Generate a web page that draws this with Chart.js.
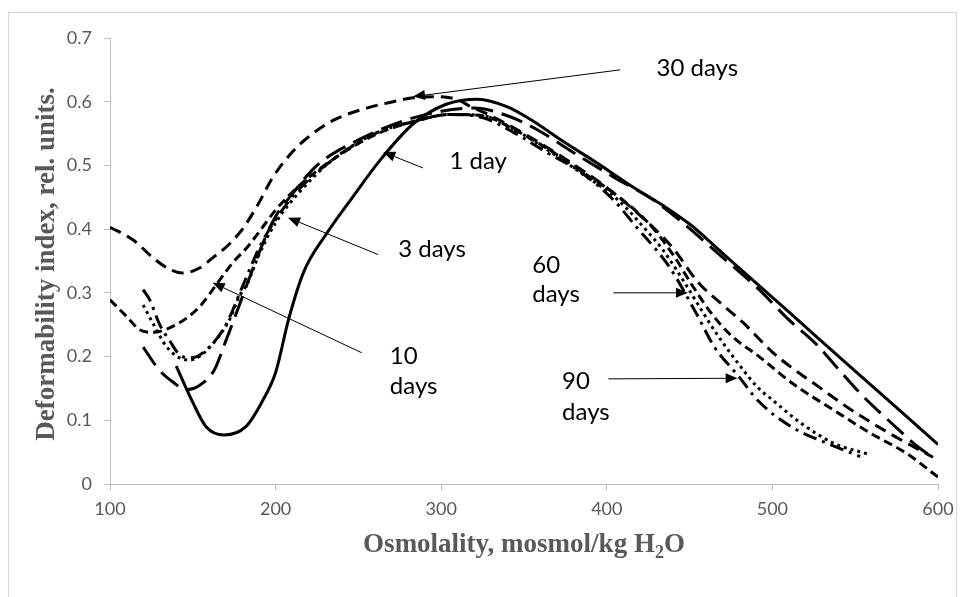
<!DOCTYPE html>
<html>
<head>
<meta charset="utf-8">
<script src="https://cdn.jsdelivr.net/npm/chart.js@4.4.1/dist/chart.umd.min.js"></script>
<style>
  html, body { margin: 0; padding: 0; background: #fff; }
  #wrap { width: 964px; height: 597px; }
</style>
</head>
<body>
<div id="wrap"><canvas id="chart"></canvas></div>
<script>
// values: osmolality (mosmol/kg H2O) vs deformability index
const day1X = [140, 150, 158, 169, 182, 192, 200, 208, 217, 230, 247, 263, 283, 303, 322, 340, 354, 374, 394, 414, 434, 450, 470, 500, 525, 550, 575, 600];
const day1Y = [0.185, 0.128, 0.09, 0.077, 0.09, 0.13, 0.175, 0.26, 0.333, 0.39, 0.452, 0.508, 0.565, 0.596, 0.604, 0.592, 0.572, 0.537, 0.504, 0.469, 0.437, 0.408, 0.362, 0.293, 0.235, 0.177, 0.12, 0.062];

const day3X = [120, 130, 138, 146, 153, 163, 170, 178, 186, 194, 200, 210, 225, 250, 275, 300, 320, 340, 358, 380, 404, 428, 444, 468, 492, 509, 527, 542, 555, 573, 588, 598];
const day3Y = [0.215, 0.178, 0.16, 0.148, 0.153, 0.179, 0.225, 0.28, 0.336, 0.388, 0.42, 0.455, 0.50, 0.54, 0.568, 0.585, 0.59, 0.578, 0.556, 0.52, 0.482, 0.446, 0.414, 0.36, 0.305, 0.26, 0.218, 0.174, 0.137, 0.093, 0.058, 0.04];

const day10X = [100, 110, 118, 126, 136, 146, 154, 164, 174, 183, 191, 200, 215, 235, 260, 285, 305, 325, 345, 365, 385, 405, 425, 440, 452, 464, 476, 492, 512, 537, 559, 581, 600];
const day10Y = [0.289, 0.263, 0.242, 0.238, 0.245, 0.26, 0.278, 0.312, 0.347, 0.372, 0.399, 0.43, 0.47, 0.51, 0.548, 0.57, 0.58, 0.578, 0.555, 0.525, 0.49, 0.455, 0.41, 0.36, 0.31, 0.265, 0.231, 0.2, 0.158, 0.116, 0.08, 0.048, 0.011];

const day30X = [100, 114, 126, 136, 144, 154, 162, 171, 180, 189, 198, 209, 219, 235, 255, 271, 285, 299, 310, 318, 330, 350, 375, 400, 425, 440, 455, 470, 482, 500, 512, 525, 545, 569, 597];
const day30Y = [0.403, 0.383, 0.355, 0.337, 0.331, 0.339, 0.355, 0.374, 0.40, 0.437, 0.48, 0.518, 0.543, 0.571, 0.59, 0.60, 0.607, 0.608, 0.603, 0.592, 0.578, 0.55, 0.51, 0.465, 0.41, 0.37, 0.317, 0.281, 0.254, 0.207, 0.182, 0.158, 0.121, 0.082, 0.042];

const day60X = [120, 127, 134, 142, 148, 154, 164, 172, 178, 183, 190, 200, 215, 235, 260, 285, 305, 325, 345, 365, 385, 405, 425, 434, 446, 456, 466, 480, 491, 500, 517, 537, 559];
const day60Y = [0.281, 0.247, 0.216, 0.198, 0.195, 0.2, 0.226, 0.257, 0.294, 0.315, 0.36, 0.41, 0.46, 0.51, 0.55, 0.57, 0.58, 0.578, 0.555, 0.523, 0.487, 0.45, 0.395, 0.367, 0.32, 0.278, 0.237, 0.187, 0.152, 0.132, 0.096, 0.064, 0.046];

const day90X = [120, 124, 130, 136, 142, 149, 160, 170, 180, 190, 200, 215, 235, 260, 285, 305, 325, 345, 364, 384, 404, 418, 430, 438, 454, 465, 479, 492, 512, 533, 553];
const day90Y = [0.305, 0.289, 0.25, 0.225, 0.203, 0.198, 0.215, 0.25, 0.31, 0.37, 0.415, 0.465, 0.51, 0.55, 0.57, 0.58, 0.575, 0.55, 0.52, 0.49, 0.446, 0.403, 0.367, 0.34, 0.268, 0.215, 0.171, 0.129, 0.089, 0.064, 0.043];

const xTicks = [100, 200, 300, 400, 500, 600];
const yTickLabels = ["0", "0.1", "0.2", "0.3", "0.4", "0.5", "0.6", "0.7"];

// callout arrows: tail (x, y) -> head (x, y), in data units
const arrowFrom = [[408, 0.65], [289, 0.496], [262, 0.36], [252, 0.206], [404, 0.30], [401, 0.165]];
const arrowTo = [[283, 0.608], [265, 0.521], [207.5, 0.418], [162, 0.316], [449, 0.30], [479, 0.166]];
// callout text lines, anchored at left edge / middle
const noteText = ["30 days", "1 day", "3 days", "10", "days", "60", "days", "90", "days"];
const notePos = [[430, 0.653], [305, 0.507], [274, 0.369], [269, 0.2], [269, 0.154], [355, 0.344], [355, 0.298], [373, 0.162], [373, 0.113]];

const pts = (xs, ys) => xs.map((x, i) => ({ x: x, y: ys[i] }));

const grey = "#595959";
const axisGrey = "#bfbfbf";
const lw = 3;

const extras = {
    id: "extras",
    beforeDraw(chart) {
        const ctx = chart.ctx;
        ctx.save();
        ctx.strokeStyle = "#d9d9d9";
        ctx.lineWidth = 1;
        ctx.strokeRect(8.5, 12.5, 948, 600);
        ctx.restore();
    },
    afterDraw(chart) {
        const ctx = chart.ctx;
        const xs = chart.scales.x, ys = chart.scales.y;
        const area = chart.chartArea;
        ctx.save();
        // arrows
        ctx.strokeStyle = "#000";
        ctx.fillStyle = "#000";
        ctx.lineWidth = 1;
        arrowFrom.forEach((f, i) => {
            const x0 = xs.getPixelForValue(f[0]), y0 = ys.getPixelForValue(f[1]);
            const x1 = xs.getPixelForValue(arrowTo[i][0]), y1 = ys.getPixelForValue(arrowTo[i][1]);
            const a = Math.atan2(y1 - y0, x1 - x0);
            const len = 12, half = 5;
            ctx.beginPath();
            ctx.moveTo(x0, y0);
            ctx.lineTo(x1 - Math.cos(a) * len, y1 - Math.sin(a) * len);
            ctx.stroke();
            ctx.beginPath();
            ctx.moveTo(x1, y1);
            ctx.lineTo(x1 - Math.cos(a) * len - Math.sin(a) * half, y1 - Math.sin(a) * len + Math.cos(a) * half);
            ctx.lineTo(x1 - Math.cos(a) * len + Math.sin(a) * half, y1 - Math.sin(a) * len - Math.cos(a) * half);
            ctx.closePath();
            ctx.fill();
        });
        // callout labels
        ctx.font = "24px Lato";
        ctx.textAlign = "left";
        ctx.textBaseline = "middle";
        noteText.forEach((t, i) => {
            ctx.fillText(t, xs.getPixelForValue(notePos[i][0]), ys.getPixelForValue(notePos[i][1]));
        });
        // axis titles
        ctx.fillStyle = grey;
        const big = "bold 27px 'Liberation Serif'", small = "bold 18px 'Liberation Serif'";
        ctx.font = big;
        const cx = (area.left + area.right) / 2;
        const part1 = "Osmolality, mosmol/kg H", part3 = "O";
        const w1 = ctx.measureText(part1).width, w3 = ctx.measureText(part3).width;
        ctx.font = small;
        const w2 = ctx.measureText("2").width;
        const sx = cx - (w1 + w2 + w3) / 2;
        const ty = 545;
        ctx.font = big;
        ctx.fillText(part1, sx, ty);
        ctx.font = small;
        ctx.fillText("2", sx + w1, ty + 8);
        ctx.font = big;
        ctx.fillText(part3, sx + w1 + w2, ty);

        ctx.translate(47, (area.top + area.bottom) / 2 + 3);
        ctx.rotate(-Math.PI / 2);
        ctx.textAlign = "center";
        ctx.fillText("Deformability index, rel. units.", 0, 0);
        ctx.restore();
    }
};

const ctx = document.getElementById("chart");
const chart = new Chart(ctx, {
    type: "line",
    data: {
        datasets: [{
            label: "1 day",
            data: pts(day1X, day1Y),
            borderColor: "#000",
            borderWidth: lw,
            },
            {
            label: "3 days",
            data: pts(day3X, day3Y),
            borderColor: "#000",
            borderWidth: lw,
            borderDash: [22, 9],
            },
            {
            label: "10 days",
            data: pts(day10X, day10Y),
            borderColor: "#000",
            borderWidth: lw,
            borderDash: [9, 5],
            },
            {
            label: "30 days",
            data: pts(day30X, day30Y),
            borderColor: "#000",
            borderWidth: lw,
            borderDash: [12, 7],
            },
            {
            label: "60 days",
            data: pts(day60X, day60Y),
            borderColor: "#000",
            borderWidth: lw,
            borderDash: [3, 4],
            },
            {
            label: "90 days",
            data: pts(day90X, day90Y),
            borderColor: "#000",
            borderWidth: lw,
            borderDash: [14, 6, 3, 6],
            }],
    },
    options: {
        responsive: true,
        maintainAspectRatio: false,
        animation: false,
        devicePixelRatio: 1,
        layout: { padding: { top: 38, right: 26, left: 0, bottom: 0 } },
        elements: {
            point: { radius: 0 },
            line: { cubicInterpolationMode: "monotone", fill: false },
        },
        plugins: {
            legend: { display: false },
            tooltip: { enabled: false },
        },
        scales: {
            x: {
                type: "linear",
                min: 100,
                max: 600,
                afterBuildTicks: (s) => { s.ticks = xTicks.map(v => ({ value: v })); },
                afterFit: (s) => { s.height = 113; },
                ticks: { color: grey, font: { family: "Lato", size: 18 }, padding: 8, maxRotation: 0 },
                grid: { drawOnChartArea: false, drawTicks: true, tickLength: 6, color: axisGrey },
                border: { color: axisGrey, width: 1 },
            },
            y: {
                type: "linear",
                min: 0,
                max: 0.7,
                ticks: {
                    stepSize: 0.1,
                    color: grey,
                    font: { family: "Lato", size: 18 },
                    padding: 12,
                    callback: (v, i) => yTickLabels[i],
                },
                afterFit: (s) => { s.width = 110; },
                grid: { drawOnChartArea: false, drawTicks: true, tickLength: 6, color: axisGrey },
                border: { color: axisGrey, width: 1 },
            }
        }
    },
    plugins: [extras]
});
</script>
</body>
</html>
